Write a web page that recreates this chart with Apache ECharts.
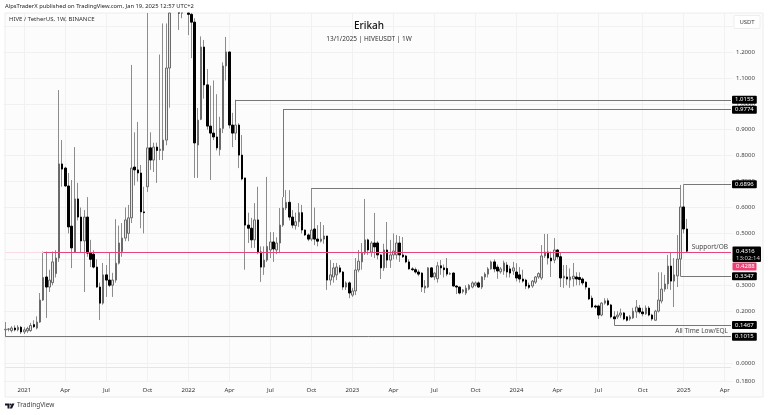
<!DOCTYPE html>
<html>
<head>
<meta charset="utf-8">
<title>HIVEUSDT 1W</title>
<script src="https://cdn.jsdelivr.net/npm/echarts@6/dist/echarts.min.js"></script>
<style>
html,body{margin:0;padding:0;background:#fff;}
#main{width:768px;height:415px;}
</style>
</head>
<body>
<div id="main"></div>
<script>
// weekly candles (one row = 10 weeks)
var opens = [
	.128,.130,.125,.135,.128,.138,.120,.124,.125,.148,
	.135,.158,.243,.332,.293,.31,.345,.405,.768,.752,
	.683,.528,.428,.633,.563,.471,.563,.424,.42,.37,
	.293,.231,.34,.32,.30,.32,.385,.43,.482,.50,
	.56,.756,.745,.733,.583,.68,.83,.783,.833,.82,
	.82,.86,1.138,1.5,1.7,1.8,1.6,1.65,1.45,1.345,
	1.315,.841,.94,1.219,1.073,.914,.887,.872,.823,.905,
	1.146,1.2,.918,.887,.918,.802,.714,.532,.52,.475,
	.552,.428,.37,.397,.436,.467,.436,.463,.532,.598,
	.62,.563,.53,.545,.58,.513,.494,.478,.517,.478,
	.47,.478,.49,.32,.332,.34,.367,.351,.293,.309,
	.262,.278,.359,.39,.424,.475,.428,.463,.463,.417,
	.367,.436,.397,.417,.417,.463,.417,.413,.39,.363,
	.36,.351,.347,.289,.293,.367,.332,.325,.375,.367,
	.365,.343,.347,.297,.293,.275,.27,.285,.293,.30,
	.309,.293,.332,.343,.363,.39,.37,.352,.355,.378,
	.363,.355,.351,.34,.324,.32,.30,.297,.312,.332,
	.328,.413,.428,.405,.397,.436,.41,.328,.332,.32,
	.325,.332,.33,.324,.312,.289,.25,.22,.22,.185,
	.231,.24,.224,.178,.178,.185,.193,.178,.17,.174,
	.197,.212,.197,.19,.212,.185,.165,.2,.239,.285,
	.305,.374,.316,.336,.401,.602,.517
];
var closes = [
	.130,.131,.135,.128,.138,.120,.128,.133,.145,.14,
	.158,.243,.33,.293,.32,.39,.405,.768,.748,.683,
	.525,.444,.633,.563,.471,.563,.424,.40,.37,.293,
	.231,.34,.32,.30,.32,.385,.463,.482,.552,.56,
	.752,.745,.733,.583,.58,.83,.783,.833,.82,.825,
	.86,1.138,1.5,1.7,1.8,1.6,1.65,1.45,1.345,1.315,
	.849,.937,1.219,1.073,.914,.887,.872,.83,.905,1.146,
	1.2,.918,.887,.918,.802,.71,.532,.52,.475,.552,
	.428,.37,.397,.45,.467,.44,.463,.532,.598,.62,
	.563,.532,.545,.58,.513,.494,.478,.513,.478,.47,
	.478,.49,.32,.34,.367,.37,.351,.293,.309,.27,
	.278,.359,.393,.424,.475,.436,.463,.448,.417,.367,
	.436,.397,.417,.432,.463,.417,.41,.39,.363,.36,
	.351,.343,.293,.297,.367,.332,.347,.375,.367,.36,
	.343,.345,.297,.293,.27,.282,.289,.30,.309,.309,
	.293,.332,.343,.363,.39,.363,.355,.363,.386,.351,
	.347,.367,.328,.324,.316,.297,.292,.316,.332,.345,
	.413,.428,.405,.394,.436,.41,.328,.335,.324,.332,
	.335,.324,.322,.309,.293,.247,.216,.216,.185,.231,
	.24,.225,.178,.17,.185,.193,.17,.165,.178,.2,
	.216,.197,.19,.212,.185,.17,.2,.243,.285,.305,
	.374,.316,.34,.401,.602,.517,.4316
];
var highs = [
	.158,.135,.142,.145,.146,.143,.138,.140,.155,.165,
	.18,.27,.43,.43,.36,.43,.435,1.053,.86,.757,
	.733,.706,.833,.695,.60,.59,.64,.475,.435,.40,
	.31,.386,.378,.428,.348,.555,.53,.54,.60,.61,
	1.15,.89,.93,.764,.68,1.45,.89,.85,.85,1.19,
	1.31,1.31,1.6,1.9,2.0,1.9,1.8,1.7,1.5,1.36,
	1.33,.984,1.26,1.246,1.134,1.07,1.09,1.037,.95,1.16,
	1.258,1.2,.965,.93,.925,.88,.714,.58,.56,.617,
	.68,.45,.45,.718,.505,.505,.485,.598,.64,.667,
	.667,.59,.58,.617,.61,.515,.50,.675,.60,.532,
	.544,.532,.49,.397,.386,.386,.378,.355,.315,.315,
	.29,.405,.436,.463,.633,.48,.47,.579,.47,.42,
	.46,.544,.475,.50,.494,.49,.486,.417,.40,.37,
	.368,.36,.35,.32,.37,.37,.35,.39,.397,.38,
	.405,.35,.35,.30,.295,.285,.30,.305,.315,.315,
	.315,.335,.35,.37,.395,.40,.38,.37,.395,.39,
	.375,.39,.385,.37,.36,.325,.31,.32,.335,.35,
	.455,.498,.498,.43,.482,.44,.425,.378,.378,.365,
	.386,.35,.35,.33,.315,.29,.26,.225,.225,.235,
	.25,.25,.228,.2,.2,.21,.197,.18,.185,.213,
	.243,.224,.213,.222,.22,.19,.205,.35,.35,.34,
	.417,.428,.405,.494,.687,.6896,.556
];
var lows = [
	.125,.122,.118,.122,.122,.112,.112,.116,.12,.135,
	.13,.155,.24,.174,.274,.30,.33,.39,.68,.68,
	.50,.366,.428,.55,.428,.274,.41,.37,.365,.29,
	.166,.225,.255,.293,.255,.31,.38,.41,.47,.47,
	.54,.685,.70,.52,.50,.66,.745,.737,.695,.783,
	.783,.84,.985,1.42,1.5,1.285,1.33,1.4,1.265,1.176,
	.714,.714,.937,1.02,.90,.706,.86,.82,.80,.887,
	1.09,.905,.833,.86,.752,.705,.36,.463,.444,.444,
	.42,.313,.34,.39,.405,.39,.42,.424,.525,.59,
	.55,.52,.515,.525,.50,.49,.47,.47,.455,.45,
	.465,.46,.282,.30,.31,.32,.345,.282,.282,.25,
	.255,.262,.35,.36,.417,.417,.41,.405,.40,.324,
	.355,.367,.367,.40,.40,.39,.405,.385,.36,.355,
	.345,.335,.274,.27,.289,.33,.32,.31,.34,.33,
	.335,.34,.295,.266,.265,.268,.262,.28,.288,.295,
	.29,.285,.32,.33,.36,.35,.325,.345,.34,.33,
	.33,.34,.315,.31,.31,.285,.285,.29,.305,.325,
	.32,.405,.38,.332,.385,.40,.293,.29,.30,.29,
	.295,.30,.30,.30,.283,.243,.212,.21,.17,.18,
	.225,.22,.172,.147,.17,.174,.165,.16,.163,.17,
	.174,.19,.18,.185,.18,.163,.163,.195,.23,.275,
	.285,.282,.216,.293,.395,.50,.425
];

// time axis
var firstWeek = '2020-11-23';
var weekCount = 231;
var tickDates = ['2021-01-04','2021-04-05','2021-07-05','2021-10-04','2022-01-03','2022-04-04','2022-07-04','2022-10-03','2023-01-02','2023-04-03','2023-07-03','2023-10-02','2024-01-01','2024-04-01','2024-07-01','2024-10-07','2025-01-06','2025-04-07'];
var tickLabels = ['2021','Apr','Jul','Oct','2022','Apr','Jul','Oct','2023','Apr','Jul','Oct','2024','Apr','Jul','Oct','2025','Apr'];

// price axis
var priceMin = -0.0694;
var priceMax = 1.3503;
var priceTicks = [-0.0694,0,.1,.2,.3,.4,.5,.6,.7,.8,.9,1,1.1,1.2,1.3];

// drawn levels: start week, end week, price, bottom of the stem, price tag
var levelStart = [73,88,215,214,193,0,97];
var levelEnd = [230,230,230,230,230,230,214];
var levelPrice = [1.0155,.9774,.6896,.3347,.1467,.1015,.6747];
var levelStem = [.93,.64,null,.401,.17,.13,null];
var levelTag = ['1.0155','0.9774','0.6896','0.3347','0.1467','0.1015',null];

var supportPrice = .4288;
var supportStart = 12;
var notes = ['Support/OB','All Time Low/EQL'];
var notePrice = [.4475,.1235];

var FONT = '"Noto Sans", sans-serif';

var weeks = [];
var t = Date.parse(firstWeek);
for (var i = 0; i < weekCount; i++) {
	weeks.push(new Date(t + i * 7 * 86400000).toISOString().slice(0, 10));
}
var tickOf = {};
tickDates.forEach(function (d, k) { tickOf[d] = tickLabels[k]; });
function isTick(idx, name) { return tickOf[name] !== undefined; }

// candlestick only drops boxes that are fully outside, so cut the rest at the pane top
function cap(v) { return Math.min(v, priceMax); }

var wickData = [], bodyData = [];
opens.forEach(function (o, k) {
	var c = closes[k];
	if (lows[k] >= priceMax) {
		wickData.push('-');
		bodyData.push('-');
		return;
	}
	wickData.push([cap(o), cap(c), lows[k], cap(highs[k])]);
	bodyData.push([cap(o), cap(c), cap(Math.min(o, c)), cap(Math.max(o, c))]);
});

var levelLines = [];
levelPrice.forEach(function (p, k) {
	var first = {
		coord: [levelStart[k], p],
		lineStyle: {color: '#777', width: 1, type: 'solid'}
	};
	if (levelTag[k]) {
		first.label = {
			show: true, position: 'end', distance: 1, formatter: levelTag[k],
			color: '#fff', backgroundColor: '#000', fontSize: 6, fontFamily: FONT,
			padding: [1, 3, 1, 3], borderRadius: 1
		};
	}
	levelLines.push([first, {coord: [levelEnd[k], p]}]);
	if (levelStem[k] !== null) {
		levelLines.push([
			{coord: [levelStart[k], p], lineStyle: {color: '#777', width: 1, type: 'solid'}},
			{coord: [levelStart[k], levelStem[k]]}
		]);
	}
});
// the support level, faint before it starts
levelLines.push([
	{coord: [0, supportPrice], lineStyle: {color: '#fadbe4', width: 1, type: 'solid'}},
	{coord: [supportStart, supportPrice]}
]);
levelLines.push([
	{coord: [supportStart, supportPrice], lineStyle: {color: '#e8437a', width: 1, type: 'solid'}},
	{coord: [230, supportPrice]}
]);
// pane separator
levelLines.push([
	{coord: [0, -0.0181], lineStyle: {color: '#e6e6e6', width: 1, type: 'solid'}},
	{coord: [230, -0.0181]}
]);

var chart = echarts.init(document.getElementById('main'), null, {renderer: 'canvas'});
chart.setOption({
	animation: false,
	backgroundColor: '#fff',
	textStyle: {fontFamily: FONT},
	title: [
		{text: 'AlpsTraderX published on TradingView.com, Jan 19, 2025 12:57 UTC+2', left: 5, top: 3, padding: 0,
			textStyle: {fontSize: 5.8, fontWeight: 'normal', color: '#222', fontFamily: FONT}},
		{text: 'HIVE / TetherUS, 1W, BINANCE', left: 9, top: 16, padding: 0,
			textStyle: {fontSize: 6, fontWeight: 'normal', color: '#333', fontFamily: FONT}},
		{text: 'Erikah', left: 369, top: 21, padding: 0, textAlign: 'center',
			textStyle: {fontSize: 10, fontWeight: 500, color: '#111', fontFamily: FONT}},
		{text: '13/1/2025 | HIVEUSDT | 1W', left: 369, top: 36, padding: 0, textAlign: 'center',
			textStyle: {fontSize: 6.5, fontWeight: 'normal', color: '#333', fontFamily: FONT}},
		{text: 'TradingView', left: 17, top: 402, padding: 0,
			textStyle: {fontSize: 6.5, fontWeight: 'normal', color: '#444', fontFamily: FONT}}
	],
	grid: {left: 3.8, right: 35.4, top: 13, bottom: 34, containLabel: false},
	xAxis: {
		type: 'category',
		data: weeks,
		boundaryGap: true,
		axisLine: {show: false},
		axisTick: {show: false},
		axisLabel: {
			interval: isTick,
			formatter: function (v) { return tickOf[v] || ''; },
			color: '#333', fontSize: 6, margin: 6, fontFamily: FONT
		},
		splitLine: {show: true, interval: isTick, alignWithLabel: true, lineStyle: {color: '#f1f1f1', width: 1}}
	},
	yAxis: {
		type: 'value',
		position: 'right',
		min: priceMin,
		max: priceMax,
		axisLine: {show: false},
		axisTick: {show: false, customValues: priceTicks},
		axisLabel: {
			customValues: priceTicks,
			formatter: function (v) {
				if (v < 0) { return '0.1800'; }
				if (v > 1.25) { return ''; }
				return v.toFixed(4);
			},
			color: '#444', fontSize: 6, margin: 3.5, fontFamily: FONT
		},
		splitLine: {show: true, lineStyle: {color: '#f1f1f1', width: 1}}
	},
	series: [
		{
			name: 'wick', type: 'candlestick', data: wickData, barWidth: 1, z: 3, silent: true,
			itemStyle: {color: '#8c8c8c', color0: '#8c8c8c', borderColor: '#8c8c8c', borderColor0: '#8c8c8c', borderWidth: 1}
		},
		{
			name: 'body', type: 'candlestick', data: bodyData, barWidth: 2, z: 4, silent: true,
			itemStyle: {color: '#e6e6e6', color0: '#000', borderColor: '#6a6a6a', borderColor0: '#000', borderWidth: 1},
			markLine: {
				silent: true, symbol: 'none', animation: false, z: 6,
				label: {show: false},
				data: levelLines
			}
		},
		{
			name: 'notes', type: 'scatter', symbolSize: 0, z: 7, silent: true,
			data: [[230, notePrice[0]], [230, notePrice[1]]],
			label: {
				show: true, position: 'left', distance: 3, color: '#111', fontSize: 6.5, fontFamily: FONT,
				formatter: function (p) { return notes[p.dataIndex]; }
			}
		}
	],
	graphic: [
		{type: 'rect', z: -1, silent: true, shape: {x: 5, y: 13, width: 758, height: 384},
			style: {fill: '#fcfcfc', stroke: '#ececec', lineWidth: 1}},
		{type: 'rect', z: 20, silent: true, shape: {x: 734, y: 15.5, width: 26, height: 13, r: 1},
			style: {fill: '#fff', stroke: '#eee', lineWidth: 1}},
		{type: 'text', z: 21, silent: true, style: {x: 747, y: 22, text: 'USDT', fill: '#444', font: '6px ' + FONT, align: 'center', verticalAlign: 'middle'}},
		// last price with the countdown, and the support price under it
		{type: 'rect', z: 20, silent: true, shape: {x: 732.5, y: 246.5, width: 28.5, height: 15.5, r: 1}, style: {fill: '#000'}},
		{type: 'text', z: 21, silent: true, style: {x: 736, y: 250.8, text: '0.4316', fill: '#fff', font: '6px ' + FONT, verticalAlign: 'middle'}},
		{type: 'text', z: 21, silent: true, style: {x: 736, y: 258, text: '13:02:14', fill: '#ccc', font: '6px ' + FONT, verticalAlign: 'middle'}},
		{type: 'rect', z: 20, silent: true, shape: {x: 732.5, y: 262.5, width: 24, height: 8, r: 1}, style: {fill: '#ee3f74'}},
		{type: 'text', z: 21, silent: true, style: {x: 736, y: 266.5, text: '0.4288', fill: '#fff', font: '6px ' + FONT, verticalAlign: 'middle'}},
		// TradingView mark
		{type: 'polygon', z: 21, silent: true, shape: {points: [[5, 403.5], [9.5, 403.5], [9.5, 408.5], [7.5, 408.5], [7.5, 405.5], [5, 405.5]]}, style: {fill: '#131722'}},
		{type: 'circle', z: 21, silent: true, shape: {cx: 10.6, cy: 404.5, r: 1}, style: {fill: '#131722'}},
		{type: 'polygon', z: 21, silent: true, shape: {points: [[12, 403.5], [14.5, 403.5], [12, 408.5], [9.7, 408.5]]}, style: {fill: '#131722'}}
	]
});
</script>
</body>
</html>
